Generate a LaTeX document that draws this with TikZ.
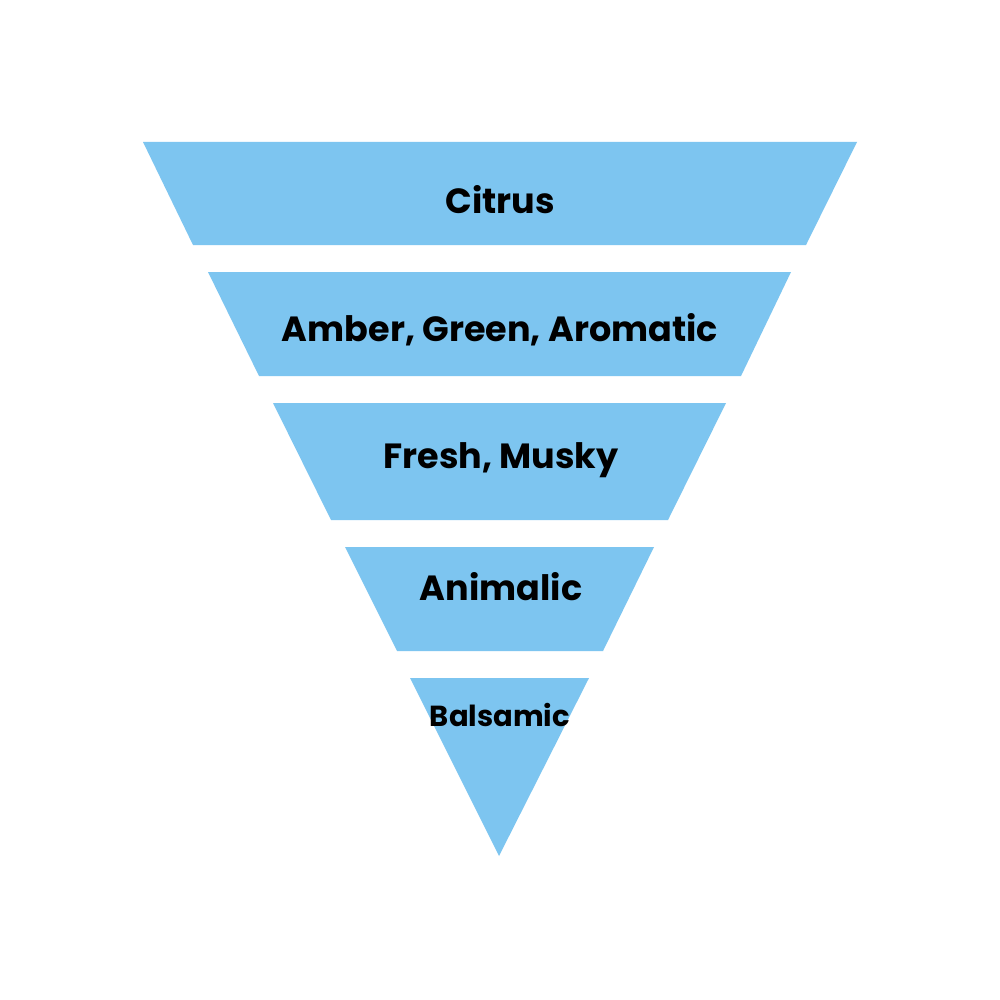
\documentclass[tikz,border=0pt]{standalone}
\usepackage{fontspec}
\setmainfont{Poppins}
\usetikzlibrary{positioning}
\definecolor{bandblue}{HTML}{7DC5F0}

\begin{document}
\begin{tikzpicture}[x=1pt, y=-1pt]
	\tikzset {band/.style={fill=bandblue, draw=none}, label/.style={font=\fontsize{35}{35}\selectfont\bfseries, text=black, inner sep=0pt}}

	\useasboundingbox[fill=white] (0,0) rectangle (1000,1000);

	\fill[band] (143,142) -- (857,142) -- (806,245) -- (193,245) -- cycle;
	\fill[band] (208,272) -- (791,272) -- (741,376) -- (259,376) -- cycle;
	\fill[band] (273,403) -- (726,403) -- (668,520) -- (331,520) -- cycle;
	\fill[band] (345,547) -- (654,547) -- (603,651) -- (397,651) -- cycle;
	\fill[band] (410,678) -- (589,678) -- (499,856) -- cycle;

	\node[label] (citrus) at (500,200) {Citrus};
	\node[label] (amber) at (500,330) {Amber, Green, Aromatic};
	\node[label] (fresh) at (501,460) {Fresh, Musky};
	\node[label] (animalic) at (501,587) {Animalic};
	\node[label, font=\fontsize{29}{29}\selectfont\bfseries] (balsamic) at (500,715) {Balsamic};
\end{tikzpicture}
\end{document}
